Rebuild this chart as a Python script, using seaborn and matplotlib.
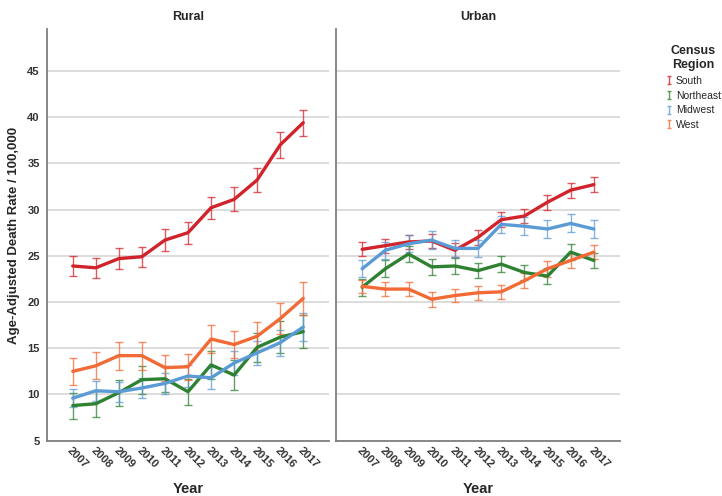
import pandas as pd
import matplotlib
matplotlib.use('Agg')
import matplotlib.pyplot as plt
from matplotlib.lines import Line2D
from matplotlib.path import Path
import seaborn as sns

# Datos
years = list(range(2007, 2018))
regions = ['South', 'Northeast', 'Midwest', 'West']
colors = ['#D1232B', '#2F8132', '#5B9BD5', '#F26A35']

rural_south = [23.9, 23.7, 24.7, 24.9, 26.7, 27.5, 30.2, 31.1, 33.2, 37.0, 39.4]
rural_northeast = [8.8, 9.0, 10.2, 11.6, 11.7, 10.3, 13.2, 12.1, 15.1, 16.2, 16.8]
rural_midwest = [9.6, 10.4, 10.3, 10.7, 11.2, 12.0, 11.8, 13.4, 14.5, 15.6, 17.3]
rural_west = [12.5, 13.1, 14.2, 14.2, 12.9, 13.0, 16.0, 15.4, 16.3, 18.2, 20.4]

urban_south = [25.7, 26.1, 26.5, 26.6, 25.6, 27.0, 28.9, 29.3, 30.8, 32.1, 32.7]
urban_northeast = [21.6, 23.6, 25.2, 23.8, 23.9, 23.4, 24.1, 23.2, 22.8, 25.4, 24.5]
urban_midwest = [23.6, 25.6, 26.3, 26.7, 25.8, 25.8, 28.4, 28.2, 27.9, 28.5, 27.9]
urban_west = [21.7, 21.4, 21.4, 20.3, 20.7, 21.0, 21.1, 22.3, 23.6, 24.5, 25.4]

rural_south_err = [1.1, 1.1, 1.1, 1.1, 1.2, 1.2, 1.2, 1.3, 1.3, 1.4, 1.4]
rural_northeast_err = [1.4, 1.4, 1.4, 1.5, 1.4, 1.4, 1.5, 1.6, 1.6, 1.7, 1.8]
rural_midwest_err = [1.0, 1.1, 1.1, 1.1, 1.1, 1.2, 1.2, 1.3, 1.3, 1.4, 1.5]
rural_west_err = [1.45, 1.45, 1.5, 1.5, 1.4, 1.4, 1.5, 1.5, 1.5, 1.7, 1.8]

urban_south_err = [0.75, 0.75, 0.75, 0.75, 0.75, 0.8, 0.8, 0.8, 0.8, 0.8, 0.8]
urban_northeast_err = [0.9, 0.9, 0.85, 0.85, 0.85, 0.85, 0.85, 0.85, 0.85, 0.85, 0.85]
urban_midwest_err = [0.9, 0.9, 0.9, 0.95, 0.95, 0.95, 0.95, 0.95, 0.95, 0.97, 1.0]
urban_west_err = [0.7, 0.75, 0.75, 0.8, 0.75, 0.75, 0.75, 0.8, 0.85, 0.8, 0.8]

rates = {
    'Rural': [rural_south, rural_northeast, rural_midwest, rural_west],
    'Urban': [urban_south, urban_northeast, urban_midwest, urban_west],
}
errors = {
    'Rural': [rural_south_err, rural_northeast_err, rural_midwest_err, rural_west_err],
    'Urban': [urban_south_err, urban_northeast_err, urban_midwest_err, urban_west_err],
}

rows = []
for area in ['Rural', 'Urban']:
    for reg, vals, errs in zip(regions, rates[area], errors[area]):
        for yr, v, e in zip(years, vals, errs):
            rows.append({'Area': area, 'Region': reg, 'Year': yr, 'Rate': v, 'Err': e})
df = pd.DataFrame(rows)

sns.set_style('white')
plt.rcParams['font.family'] = ['Liberation Sans', 'DejaVu Sans']

fig = plt.figure(figsize=(7.22, 4.96), dpi=100)
W, H = 722, 496
ax_r = fig.add_axes([46.7 / W, 1 - 440.7 / H, (329.3 - 46.7) / W, (440.7 - 29.3) / H])
ax_u = fig.add_axes([336 / W, 1 - 440.7 / H, (620 - 336) / W, (440.7 - 29.3) / H])

palette = dict(zip(regions, colors))
for ax, area in [(ax_r, 'Rural'), (ax_u, 'Urban')]:
    sub = df[df['Area'] == area]
    for reg in regions:
        d = sub[sub['Region'] == reg]
        ax.errorbar(d['Year'], d['Rate'], yerr=d['Err'], fmt='none',
                    ecolor=palette[reg], alpha=0.75, elinewidth=1.0,
                    capsize=2.8, capthick=1.0, zorder=2)
    sns.lineplot(data=sub, x='Year', y='Rate', hue='Region', hue_order=regions,
                 palette=palette, linewidth=2.4, legend=False, ax=ax, zorder=3)

    ax.set_xlim(2007 - 1.13, 2017 + 1.13)
    ax.set_ylim(5, 49.5)
    ax.set_yticks([5, 10, 15, 20, 25, 30, 35, 40, 45])
    ax.set_xticks(years)
    ax.set_xticklabels([str(y) for y in years], rotation=-45, ha='left',
                       rotation_mode='anchor', fontsize=8, fontweight='bold',
                       color='#333333')
    ax.tick_params(axis='x', length=0, pad=3)
    ax.tick_params(axis='y', length=0, pad=5)
    ax.grid(axis='y', color='#d3d3d3', linewidth=1.1)
    ax.set_axisbelow(True)
    for s in ['top', 'right']:
        ax.spines[s].set_visible(False)
    for s in ['left', 'bottom']:
        ax.spines[s].set_color('#7f7f7f')
        ax.spines[s].set_linewidth(1.3)
    ax.set_title(area, fontsize=9, fontweight='bold', pad=7)
    ax.set_xlabel('Year', fontsize=10.5, fontweight='bold')
    ax.xaxis.set_label_coords(0.5, -0.1)
    ax.set_ylabel('')

for lab in ax_r.get_yticklabels():
    lab.set_fontsize(8)
    lab.set_fontweight('bold')
    lab.set_color('#333333')
ax_u.set_yticklabels([])
ax_r.set_ylabel('Age-Adjusted Death Rate / 100,000', fontsize=9.5,
                fontweight='bold')
ax_r.yaxis.set_label_coords(-0.095, 0.5)

# leyenda con marcadores tipo barra de error (I con remates)
ibeam = Path([(-0.5, 1), (0.5, 1), (0, 1), (0, -1), (-0.5, -1), (0.5, -1)],
             [Path.MOVETO, Path.LINETO, Path.MOVETO, Path.LINETO,
              Path.MOVETO, Path.LINETO])
handles = [Line2D([], [], linestyle='none', marker=ibeam, markersize=5.5,
                  markeredgewidth=1.0, markerfacecolor='none',
                  markeredgecolor=c, alpha=0.8) for c in colors]
leg = fig.legend(handles, regions, title='Census\nRegion',
                 loc='upper left', bbox_to_anchor=(656 / W, 1 - 36 / H),
                 frameon=False, fontsize=7.5, handlelength=0.6,
                 handletextpad=0.4, labelspacing=0.45)
leg.get_title().set_fontweight('bold')
leg.get_title().set_fontsize(9)
leg.get_title().set_multialignment('center')

fig.savefig('out.png', dpi=100)
